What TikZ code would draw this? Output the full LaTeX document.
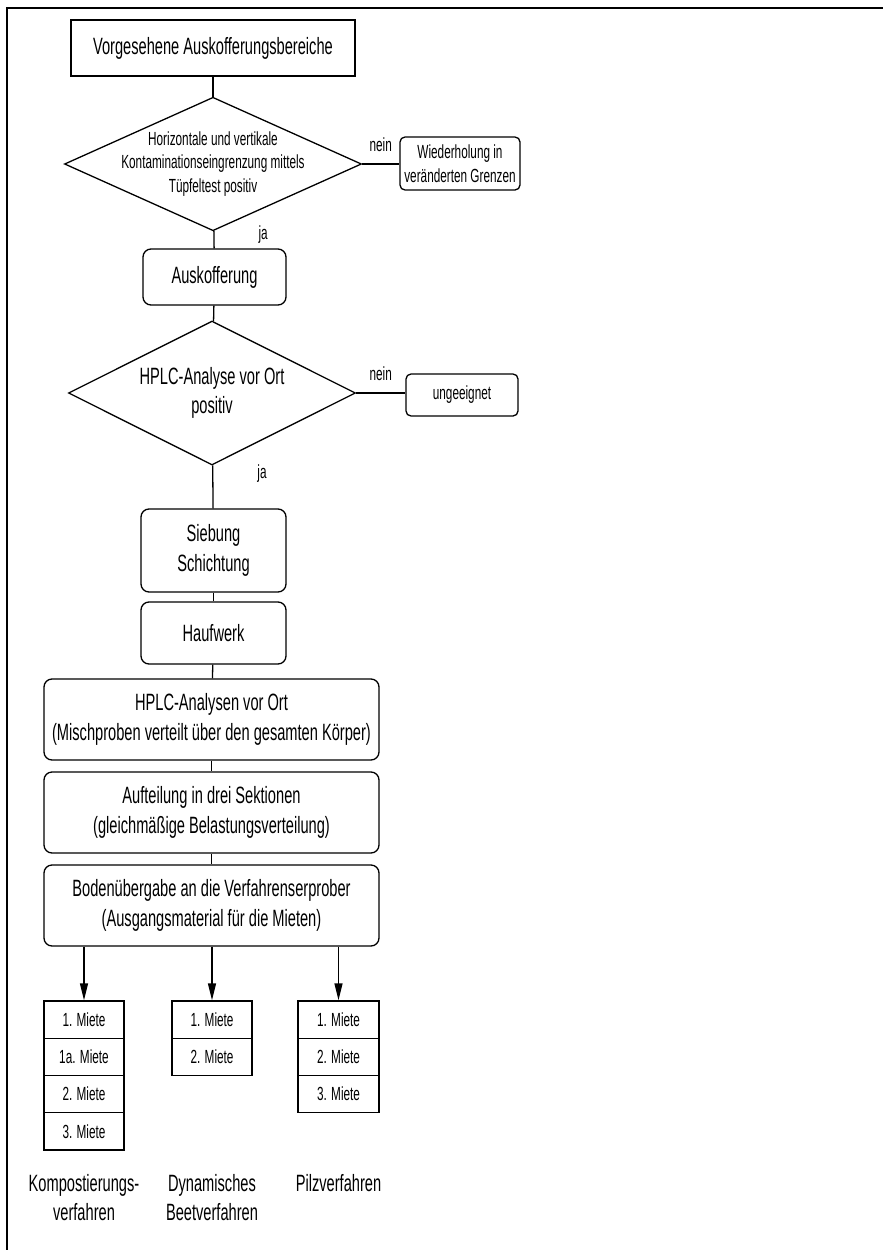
\documentclass[tikz,border=0pt]{standalone}
\usepackage{fontspec}
\setmainfont{Liberation Sans}[FakeStretch=0.62]
\usetikzlibrary{shapes.geometric, arrows.meta}

\newcommand\boxfont{\fontsize{23.6}{29.5}\selectfont}
\newcommand\notefont{\fontsize{19}{23.5}\selectfont}

\tikzset{
  plainbox/.style={draw, line width=1.3pt, align=center, font=\boxfont, inner sep=2pt},
  roundbox/.style={plainbox, rounded corners=8pt},
  notebox/.style={plainbox, rounded corners=5pt, font=\notefont},
  decision/.style={draw, line width=1.3pt, diamond, aspect=2.2, inner sep=-5pt, align=center},
  miete/.style={draw, line width=1.3pt, minimum width=80pt, minimum height=37.25pt, inner sep=0pt, font=\notefont},
  caption/.style={font=\boxfont, align=center, anchor=north, inner sep=0pt},
  answer/.style={font=\notefont, inner sep=2pt},
  link/.style={line width=1.3pt},
  feed/.style={link, -{Triangle[length=17pt, width=8pt]}},
}

\begin{document}
\begin{tikzpicture}[x=1pt, y=-1pt]
  \useasboundingbox (0,0) rectangle (883,1250);
  % Frame, only top and left edge
  \draw[line width=2pt] (7,1250) -- (7,8) -- (883,8);

  % Selection of the excavation area
  \node[plainbox, minimum width=284pt, minimum height=56pt] (plan) at (213,48)
    {Vorgesehene Auskofferungsbereiche};
  \node[decision, font=\notefont, minimum width=297pt, minimum height=133pt] (spot) at (213,164)
    {Horizontale und vertikale\\Kontaminationseingrenzung mittels\\Tüpfeltest positiv};
  \node[notebox, minimum width=120pt, minimum height=53pt] (retry) at (460,163.5)
    {Wiederholung in\\veränderten Grenzen};
  \node[roundbox, minimum width=143pt, minimum height=56pt] (dig) at (214.5,277) {Auskofferung};

  % On-site check
  \node[decision, font=\boxfont, minimum width=287pt, minimum height=144pt] (hplc) at (212,393)
    {HPLC-Analyse vor Ort\\positiv};
  \node[notebox, minimum width=112pt, minimum height=42pt] (unfit) at (462,395) {ungeeignet};

  % Preparation of the soil
  \node[roundbox, minimum width=145pt, minimum height=83pt] (sieve) at (213.5,550.5) {Siebung\\Schichtung};
  \node[roundbox, minimum width=145pt, minimum height=62pt] (heap) at (213.5,633) {Haufwerk};
  \node[roundbox, minimum width=335pt, minimum height=81pt] (onsite) at (211.5,719.5)
    {HPLC-Analysen vor Ort\\(Mischproben verteilt über den gesamten Körper)};
  \node[roundbox, minimum width=335pt, minimum height=81pt] (split) at (211.5,812.5)
    {Aufteilung in drei Sektionen\\(gleichmäßige Belastungsverteilung)};
  \node[roundbox, minimum width=335pt, minimum height=81pt] (handover) at (211.5,905.5)
    {Bodenübergabe an die Verfahrenserprober\\(Ausgangsmaterial für die Mieten)};

  % Connectors
  \draw[link] (plan) -- (spot);
  \draw[link] (spot.east) -- node[answer, above=10pt] {nein} (spot.east -| retry.west);
  \draw[link] (spot) -- node[answer, pos=0.2, right=42pt] {ja} (dig);
  \draw[link] (dig) -- (hplc);
  \draw[link] (hplc.east) -- node[answer, above=10pt] {nein} (hplc.east -| unfit.west);
  \draw[link] (hplc) -- node[answer, pos=0.2, right=42pt] {ja} (sieve);
  \draw[link] (sieve) -- (heap);
  \draw[link] (heap) -- (onsite);
  \draw[link] (onsite) -- (split);
  \draw[link] (split) -- (handover);

  % Mieten per method
  \foreach \t [count=\i] in {1. Miete, 1a. Miete, 2. Miete, 3. Miete}
    \node[miete] (kompost\i) at (84, {1001+(\i-0.5)*37.25}) {\t};
  \foreach \t [count=\i] in {1. Miete, 2. Miete}
    \node[miete] (beet\i) at (212, {1001+(\i-0.5)*37.25}) {\t};
  \foreach \t [count=\i] in {1. Miete, 2. Miete, 3. Miete}
    \node[miete, minimum width=81pt] (pilz\i) at (338.5, {1001+(\i-0.5)*37.25}) {\t};

  \draw[feed] (kompost1 |- handover.south) -- (kompost1.north);
  \draw[feed] (beet1 |- handover.south) -- (beet1.north);
  \draw[feed] (pilz1 |- handover.south) -- (pilz1.north);

  % Method names
  \node[caption] (kompostcap) at (84,1174) {Kompostierungs-\\verfahren};
  \node[caption] (beetcap) at (212,1174) {Dynamisches\\Beetverfahren};
  \node[caption] (pilzcap) at (338.5,1174) {Pilzverfahren};
\end{tikzpicture}
\end{document}
